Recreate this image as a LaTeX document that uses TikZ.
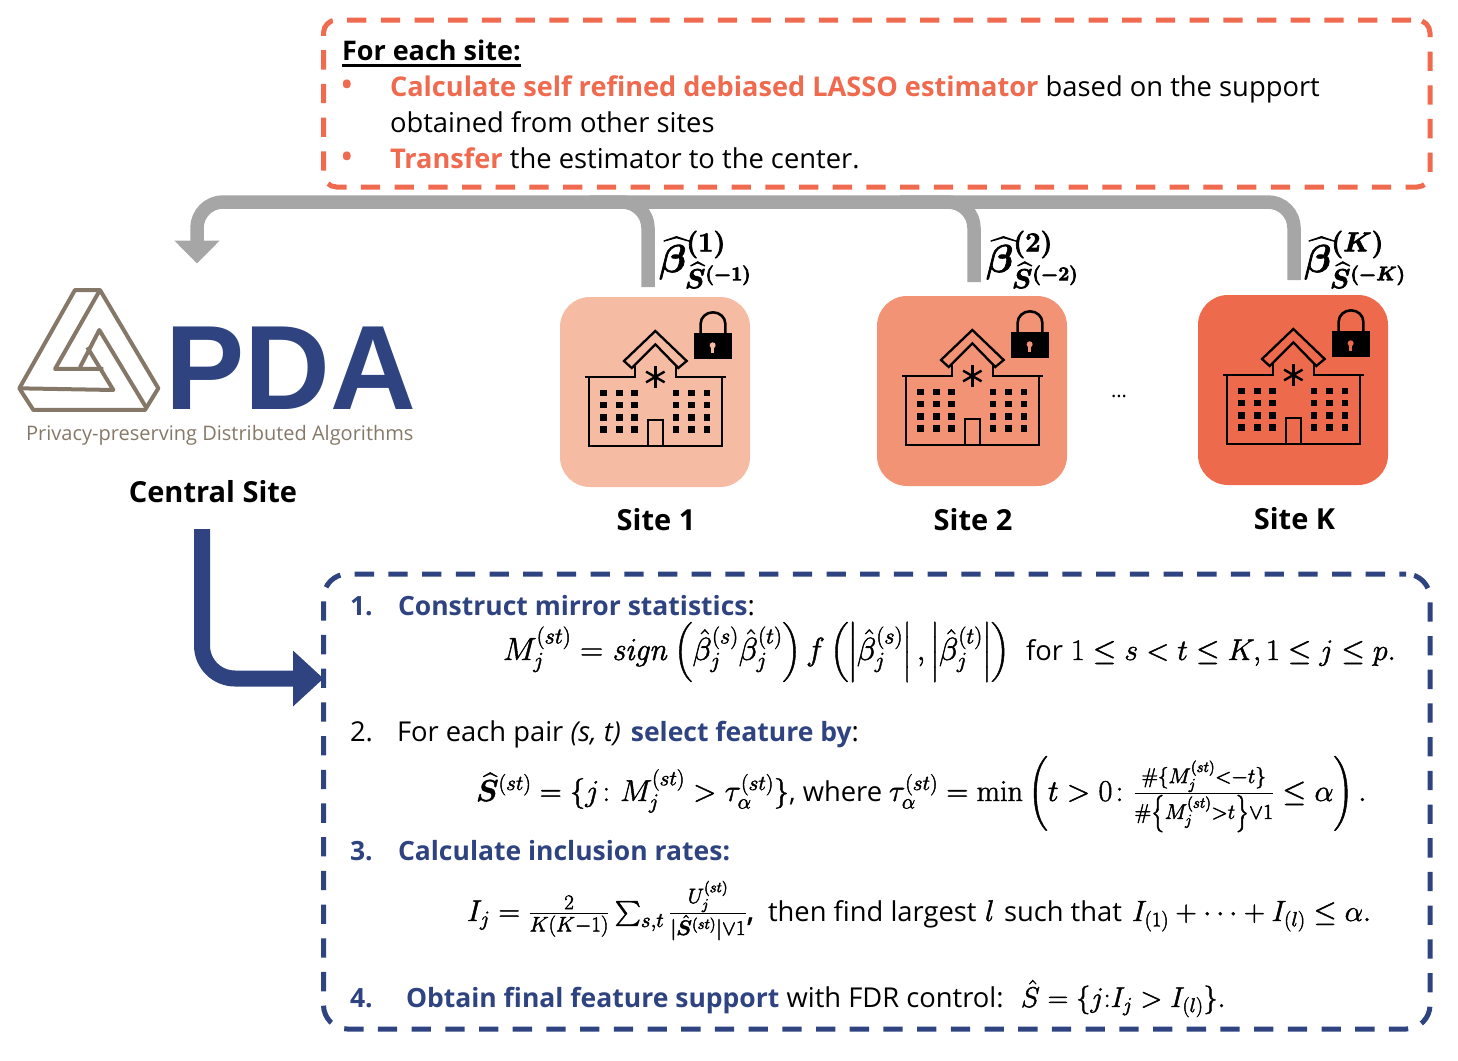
\documentclass[tikz,border=0pt]{standalone}
\usepackage{fix-cm}
\usepackage{amsmath,bm}
\usepackage[no-math]{fontspec}
\setmainfont{Open Sans}
\newfontfamily\pdafont{Liberation Sans}
\usetikzlibrary{arrows.meta}
\definecolor{oran}{HTML}{EF6A4E}
\definecolor{navy}{HTML}{2E4380}
\definecolor{gar}{HTML}{A6A6A6}
\definecolor{taupe}{HTML}{857868}
\definecolor{sa}{HTML}{F5BBA3}
\definecolor{sb}{HTML}{F29376}
\definecolor{sc}{HTML}{EE6A4C}
\newcommand\oo[1]{\textcolor{oran}{\fontsize{27.15}{33}\selectfont\textbf{#1}}}
\newcommand\nn[1]{\textcolor{navy}{\fontsize{26.5}{33}\selectfont\textbf{#1}}}
\newcommand\bodyfont{\fontsize{27.35}{33}\selectfont}
\newcommand\heavy{\special{pdf:code 2 Tr 0.45 w}}
\newcommand\heavier{\special{pdf:code 2 Tr 0.7 w}}
\newcommand\buildingicon[3]{%
\begin{scope}[shift={(#1-10,#2-96.67)},x=0.3333pt,y=-0.3333pt,line join=miter]
\draw[line width=2.3pt,fill=#3] (222,482)--(316,392)--(410,482)--(385,503)--(316,432)--(245,503)--cycle;
\draw[line width=2.3pt] (105,530)--(255,530)--(255,497);
\draw[line width=2.3pt] (378,497)--(378,530)--(528,530);
\draw[line width=2.3pt] (118,530)--(118,737)--(516,737)--(516,530);
\draw[line width=2.3pt] (295,737)--(295,660)--(340,660)--(340,737);
\foreach \a in {90,150,30}{\draw[line width=2.4pt] (316,530)++(\a:-32)--++(\a:64);}
\foreach \wx in {161,208,254,378,425,471}{\foreach \wy in {578,614,651,687}{\fill (\wx-10,\wy-10) rectangle (\wx+10,\wy+10);}}
\fill (433,398) rectangle (545,475);
\draw[line width=2.6pt] (452,400)--(452,370) arc[start angle=180,end angle=0,radius=37,y radius=-34]--(526,400);
\fill[#3] (488,435) circle[radius=9];
\fill[#3] (484,438) rectangle (492,457);
\end{scope}}
\tikzset{
 txt/.style={anchor=base west,inner sep=0pt,outer sep=0pt,font=\bodyfont},
 bul/.style={anchor=base west,inner sep=0pt,outer sep=0pt,text=oran,font=\fontsize{36}{40}\selectfont},
 eqn/.style={anchor=base west,inner sep=0pt,outer sep=0pt,font=\fontsize{#1}{34}\selectfont},
 sitebox/.style={rounded corners=30pt,minimum width=190pt,minimum height=190pt,inner sep=0pt,outer sep=0pt},
 sitelab/.style={anchor=base,inner sep=0pt,font=\fontsize{29}{34}\selectfont\bfseries},
 betalab/.style={anchor=base west,inner sep=0pt,font=\fontsize{39}{44}\selectfont\boldmath},
 orbox/.style={draw=oran,line width=5pt,dash pattern=on 19.3pt off 14.4pt,dash phase=27.8pt,rounded corners=13pt,minimum width=1106.5pt,minimum height=167pt,inner sep=0pt},
 blbox/.style={draw=navy,line width=5pt,dash pattern=on 19.3pt off 14.4pt,dash phase=12.7pt,rounded corners=24pt,minimum width=1106.5pt,minimum height=455pt,inner sep=0pt},
 grayline/.style={draw=gar,line width=13.5pt,rounded corners=26pt},
 logoline/.style={draw=taupe,line width=4pt,line join=round},
}
\begin{document}
\begin{tikzpicture}[x=1pt,y=-1pt]
\path[use as bounding box] (0,0) rectangle (1458,1060);
% dashed boxes
\node[orbox] (ob) at (876.75,103.5) {};
\node[blbox] (bb) at (876.75,801.5) {};
% sites
\node[sitebox,fill=sa] (s1) at (655,392) {};
\node[sitebox,fill=sb] (s2) at (972,391) {};
\node[sitebox,fill=sc] (s3) at (1293,390) {};
\buildingicon{560}{297}{sa}
\buildingicon{877}{296}{sb}
\buildingicon{1198}{295}{sc}
\node[sitelab] (l1) at (656,530) {Site 1};
\node[sitelab] (l2) at (973,530) {Site 2};
\node[sitelab] (l3) at (1294.5,529) {Site K};
\node[inner sep=0pt,font=\fontsize{20}{24}\selectfont] (dots) at (1119,396) {...};
\node[sitelab] (cs) at (213,502) {Central Site};
% gray connectors
\coordinate (c1) at (648,287);
\coordinate (c2) at (974,282);
\coordinate (c3) at (1294,280);
\coordinate (j1) at (590,202);
\coordinate (j2) at (900,202);
\coordinate (ga) at (197,263.5);
\coordinate (gb) at (197,202);
\coordinate (gc) at (1294,202);
\draw[grayline] (c1)|-(j1);
\draw[grayline] (c2)|-(j2);
\draw[grayline,-{Triangle[length=23pt,width=44pt]}] (c3)--(gc)--(gb)--(ga);
% blue connector
\coordinate (ba) at (202,529);
\coordinate (bc) at (202,678.5);
\coordinate (bt) at (323.5,678.5);
\draw[draw=navy,line width=16pt,rounded corners=33pt,-{Triangle[length=30.5pt,width=54pt]},color=navy] (ba)--(bc)--(bt);
% beta labels
\node[betalab] (b1) at (659,272) {\heavier$\widehat{\beta}^{(1)}_{\widehat{S}^{(-1)}}$};
\node[betalab] (b2) at (986,272) {\heavier$\widehat{\beta}^{(2)}_{\widehat{S}^{(-2)}}$};
\node[betalab] (b3) at (1304,272) {\heavier$\widehat{\beta}^{(K)}_{\widehat{S}^{(-K)}}$};
% logo
\begin{scope}[shift={(0,270)},x=0.3333pt,y=-0.3333pt]
\draw[logoline] (225,60)--(300,60)--(475,355)--(435,420)--(100,420)--(58,355)--cycle;
\draw[logoline] (300,60)--(165,297)--(310,297);
\draw[logoline] (240,292)--(298,180)--(440,415);
\draw[logoline] (58,355)--(340,360)--(262,232);
\end{scope}
\node[anchor=base west,inner sep=0pt,xscale=0.99,font=\fontsize{120}{130}\pdafont\bfseries,text=navy] (pda) at (165.5,409) {PDA};
\node[anchor=base west,inner sep=0pt,font=\fontsize{20}{24}\selectfont,text=taupe] (tag) at (26,440) {Privacy-preserving Distributed Algorithms};
% orange text
\node[txt] (t1) at (342,60) {\fontsize{27}{33}\selectfont\textbf{For each site:}};
\draw[line width=2.6pt] ([yshift=-5pt]t1.south west)--([yshift=-5pt]t1.south east);
\node[bul] (bu1) at (340,97) {•};
\node[txt] (t2) at (390,96) {\oo{Calculate self refined debiased LASSO estimator} based on the support};
\node[txt] (t3) at (390,132) {obtained from other sites};
\node[bul] (bu2) at (340,169) {•};
\node[txt] (t4) at (390,168) {\oo{Transfer} the estimator to the center.};
% blue text
\node[txt] (n1) at (350,615) {\nn{1.}};
\node[txt] (i1) at (398,615) {\nn{Construct mirror statistics}:};
\node[eqn=32] (e1) at (503,660) {\heavy$M_j^{(st)}=\mathit{sign}\left(\hat\beta_j^{(s)}\hat\beta_j^{(t)}\right)f\left(\left|\hat\beta_j^{(s)}\right|,\left|\hat\beta_j^{(t)}\right|\right)$};
\node[txt] (e1b) at (1026,660) {for};
\node[eqn=29.8] (e1c) at (1071,660) {\heavy$1\le s<t\le K,1\le j\le p.$};
\node[txt] (n2) at (350,741) {2.};
\node[txt] (i2) at (397,741) {For each pair \textit{(s, t)}\hspace{3pt} \nn{select feature by}:};
\node[eqn=30.3] (e2) at (476,801) {\heavy$\widehat{\bm S}^{(st)}=\{j\colon M_j^{(st)}>\tau_\alpha^{(st)}\}$};
\node[txt] (e2b) at (789,801) {, where};
\node[eqn=30.3] (e2c) at (889,801) {\heavy$\tau_\alpha^{(st)}=\min\left(t>0\colon \frac{\#\{M_j^{(st)}<-t\}}{\#\left\{M_j^{(st)}>t\right\}\vee 1}\le\alpha\right).$};
\node[txt] (n3) at (350,860) {\nn{3.}};
\node[txt] (i3) at (398,860) {\nn{Calculate inclusion rates:}};
\node[eqn=30] (e3) at (467,921) {\heavy$I_j=\frac{2}{K(K-1)}\sum_{s,t}\frac{U_j^{(st)}}{|\hat{\bm S}^{(st)}|\vee 1}$,};
\node[txt] (e3b) at (768,921) {then find largest};
\node[eqn=30] (e3c) at (985,921) {\heavy$l$};
\node[txt] (e3d) at (1004,921) {such that};
\node[eqn=29.3] (e3e) at (1132,921) {\heavy$I_{(1)}+\cdots+I_{(l)}\le\alpha.$};
\node[txt] (n4) at (350,1007) {\nn{4.}};
\node[txt] (i4) at (406,1007) {\nn{Obtain final feature support} with FDR control:};
\node[eqn=28.5] (e4) at (1021,1007) {\heavy$\hat S=\{j{:}I_j>I_{(l)}\}.$};
\end{tikzpicture}
\end{document}
